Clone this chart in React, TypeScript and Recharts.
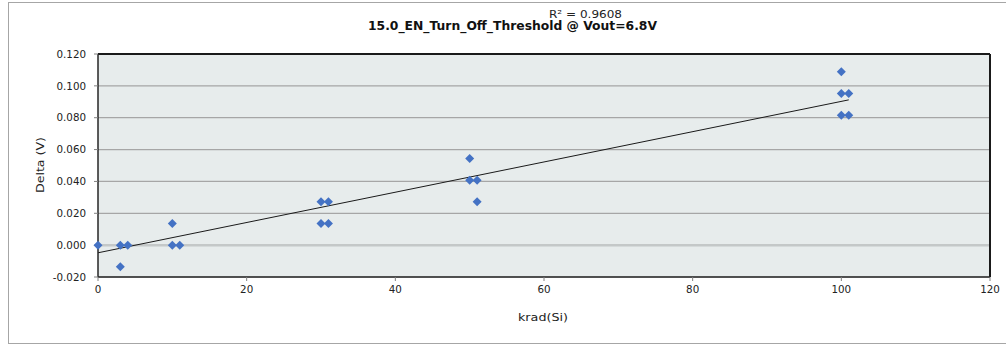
import React from "react";
import { ScatterChart, Scatter, XAxis, YAxis, CartesianGrid, ReferenceLine } from "recharts";

const doseKrad = [0, 3, 3, 4, 10, 10, 11, 30, 30, 31, 31, 50, 50, 51, 51, 100, 100, 100, 101, 101];
const deltaV = [0, 0, -0.0136, 0, 0.0136, 0, 0, 0.0272, 0.0136, 0.0272, 0.0136, 0.0544, 0.0408, 0.0408, 0.0272, 0.1088, 0.0952, 0.0816, 0.0952, 0.0816];
const xTicks = [0, 20, 40, 60, 80, 100, 120];
const yTicks = [-0.02, 0, 0.02, 0.04, 0.06, 0.08, 0.1, 0.12];
const trendX = [0, 101];
const trendY = [-0.0048, 0.0912];
const titleText = "15.0_EN_Turn_Off_Threshold @ Vout=6.8V";
const r2Text = "R\u00B2 = 0.9608";
const xLabel = "krad(Si)";
const yLabel = "Delta (V)";

const points = doseKrad.map((x, i) => ({ x, y: deltaV[i] }));
const FONT = "'DejaVu Sans', sans-serif";

const Diamond = (props: any) => {
  const { cx, cy } = props;
  const r = 4.5;
  return <polygon points={`${cx},${cy - r} ${cx + r},${cy} ${cx},${cy + r} ${cx - r},${cy}`} fill="#4472C4" />;
};

export default function App() {
  return (
    <div style={{ position: "absolute", left: 0, top: 0, width: 1006, height: 346, overflow: "hidden", background: "#fff" }}>
      <div style={{ position: "absolute", left: 8, top: 2, width: 1030, height: 342, border: "1px solid #A6A6A6", boxSizing: "border-box" }} />
      <div style={{ position: "absolute", left: 0, top: 0 }}>
        <ScatterChart width={1006} height={346} margin={{ top: 54, right: 16, bottom: 29, left: 0 }}>
          <CartesianGrid vertical={false} horizontal={true} stroke="#A6A6A6" strokeWidth={1.2} fill="#E7ECEC" fillOpacity={1} />
          <XAxis
            type="number"
            dataKey="x"
            domain={[0, 120]}
            ticks={xTicks}
            height={40}
            tickSize={4}
            tickMargin={5}
            axisLine={{ stroke: "#262626", strokeWidth: 1.5 }}
            tickLine={{ stroke: "#808080" }}
            tick={{ fill: "#222", fontSize: 10.3, fontFamily: FONT }}
            interval={0}
          />
          <YAxis
            type="number"
            dataKey="y"
            domain={[-0.02, 0.12]}
            ticks={yTicks}
            width={98}
            tickSize={4}
            tickMargin={8}
            axisLine={{ stroke: "#262626", strokeWidth: 1.5 }}
            tickLine={{ stroke: "#808080" }}
            tick={{ fill: "#222", fontSize: 10.3, fontFamily: FONT }}
            tickFormatter={(v: number) => v.toFixed(3)}
            interval={0}
          />
          <ReferenceLine y={0} stroke="#C4C8C8" strokeWidth={2.5} />
          <ReferenceLine y={0.12} stroke="#1a1a1a" strokeWidth={2} />
          <ReferenceLine x={120} stroke="#1a1a1a" strokeWidth={2} />
          <ReferenceLine
            segment={[{ x: trendX[0], y: trendY[0] }, { x: trendX[1], y: trendY[1] }]}
            stroke="#1a1a1a"
            strokeWidth={1}
          />
          <Scatter data={points} shape={<Diamond />} isAnimationActive={false} />
        </ScatterChart>
      </div>
      <svg width={1006} height={346} style={{ position: "absolute", left: 0, top: 0, pointerEvents: "none" }}>
        <text x={368} y={29.5} textLength={289} lengthAdjust="spacingAndGlyphs" fontFamily={FONT} fontWeight="bold" fontSize={11.8} fill="#111">{titleText}</text>
        <text x={549} y={17.5} textLength={73} lengthAdjust="spacingAndGlyphs" fontFamily={FONT} fontSize={11} fill="#222">{r2Text}</text>
        <text x={518} y={321} textLength={50} lengthAdjust="spacingAndGlyphs" fontFamily={FONT} fontSize={11.2} fill="#222">{xLabel}</text>
        <text x={44} y={193} textLength={56} lengthAdjust="spacingAndGlyphs" fontFamily={FONT} fontSize={11.2} fill="#222" transform="rotate(-90 44 193)">{yLabel}</text>
      </svg>
    </div>
  );
}
